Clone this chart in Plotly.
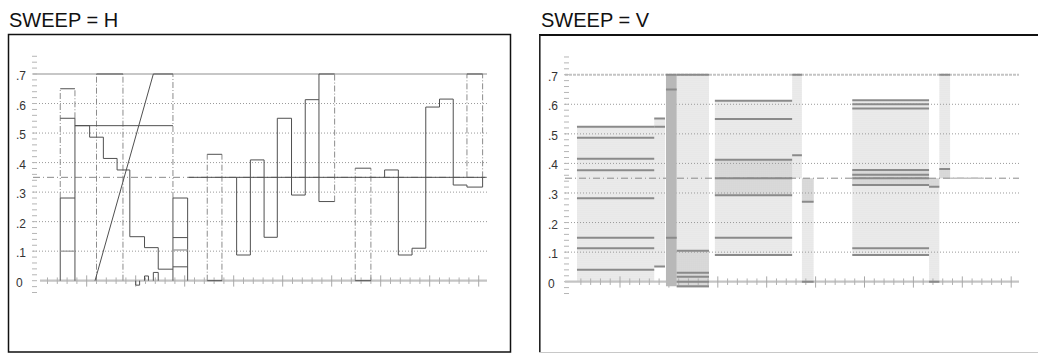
import plotly.graph_objects as go

W, H = 1038, 354

# ---------------- common scale ----------------
LABEL_LEVELS = [0.7, 0.6, 0.5, 0.4, 0.3, 0.2, 0.1, 0.0]
LABEL_TEXT = [".7", ".6", ".5", ".4", ".3", ".2", ".1", "0"]
GRID_LEVELS = [0.1, 0.2, 0.3, 0.4, 0.5, 0.6]
PEAK = 0.7
BLANK = 0.35
SCALE_TICKS = [round(-0.04 + 0.02 * i, 2) for i in range(41)]   # -0.04 .. 0.76
TIME_TICKS = list(range(1, 46))

# ---------------- SWEEP = H : Y / Pb / Pr parade ----------------
# Y channel
Y_BAR1_X = [2.3, 3.8]
Y_BAR1_LEVELS = [0.65, 0.55, 0.28]
Y_BAR1_FAINT = [0.10]
Y_WHITE_X = [3.8, 13.8]
Y_WHITE_V = 0.525
Y_STAIR_X = [3.8, 5.3, 6.7, 8.1, 9.4, 10.9, 12.3, 13.8]
Y_STAIR_V = [0.525, 0.486, 0.414, 0.375, 0.149, 0.112, 0.039, 0.039]
Y_PEAK_X = [6.0, 8.7]
Y_RAMP_X = [5.85, 11.8, 13.8]
Y_RAMP_V = [0.0, 0.7, 0.7]
Y_PLUGE_X0 = [10.0, 10.9, 11.8]
Y_PLUGE_X1 = [10.4, 11.3, 12.3]
Y_PLUGE_V = [-0.015, 0.016, 0.028]
Y_BOX2_X = [13.8, 15.3]
Y_BOX2_LEVELS = [0.28, 0.146, 0.047]
Y_BOX2_FAINT = [0.104]

# Pb channel
PB_START, PB_END = 15.4, 45.7
PB_BOX_X = [17.3, 18.8]
PB_BOX_TOP = 0.428
PB_STEP_X = [20.3, 21.7, 23.1, 24.45, 25.9, 27.3, 28.7]
PB_STEP_V = [0.35, 0.087, 0.409, 0.147, 0.55, 0.29, 0.613]
PB_PEAK_X = [28.7, 30.3]
PB_PEAK_LO = 0.268

# Pr channel
PR_BOX_X = [32.4, 34.0]
PR_BOX_TOP = 0.381
PR_STEP_X = [35.4, 36.8, 38.2, 39.6, 41.0, 42.4, 43.8, 45.4, 45.4]
PR_STEP_V = [0.35, 0.375, 0.087, 0.11, 0.588, 0.615, 0.324, 0.317, 0.35]
PR_PEAK_X = [43.8, 45.4]

# ---------------- SWEEP = V ----------------
V_FILL_X0 = [0.6, 8.5, 10.8, 14.7, 22.6, 23.6, 28.75, 36.6, 37.65]
V_FILL_X1 = [8.5, 9.6, 14.1, 22.6, 23.6, 24.8, 36.6, 37.65, 38.75]
V_FILL_LO = [0.0, 0.051, -0.02, 0.09, 0.35, 0.0, 0.09, 0.0, 0.35]
V_FILL_HI = [0.524, 0.552, 0.70, 0.612, 0.70, 0.35, 0.614, 0.35, 0.70]
V_FILL_LEVELS = [
    [0.524, 0.487, 0.416, 0.377, 0.282, 0.149, 0.113, 0.04],
    [0.552, 0.524, 0.051],
    [0.70, 0.105, 0.03, 0.017, 0.0, -0.015],
    [0.612, 0.55, 0.412, 0.35, 0.292, 0.149, 0.09],
    [0.70, 0.428],
    [0.27, 0.0],
    [0.614, 0.60, 0.586, 0.378, 0.362, 0.35, 0.327, 0.113, 0.09],
    [0.321, 0.0],
    [0.70, 0.381],
]
V_DENSE_X0 = [10.8, 23.6, 36.6, 37.65, 14.7, 28.75]
V_DENSE_X1 = [14.1, 24.8, 37.65, 38.75, 22.6, 36.6]
V_DENSE_LO = [-0.02, 0.27, 0.321, 0.35, 0.292, 0.327]
V_DENSE_HI = [0.105, 0.35, 0.35, 0.381, 0.412, 0.378]
V_BAR_X = [9.7, 10.8]
V_BAR_LO, V_BAR_HI = -0.015, 0.70
V_BAR_LEVELS = [0.70, 0.65, 0.149]
V_BLANK_SOLID_X = [38.75, 42.2]

# ---------------- pixel calibration of the two graticules ----------------
L_FRAME = (8, 34, 511, 352)          # left, top, right, bottom (px)
R_FRAME = (539, 35, 1038, 352.5)
L_CAL = dict(x0=37.7, dx=9.8, y0=280.7, dy=295.3)
R_CAL = dict(x0=571.1, dx=9.78, y0=281.7, dy=295.7)


def px_to_x(px, cal):
    return (px - cal["x0"]) / cal["dx"]


def axis_setup(frame, cal):
    l, t, r, b = frame
    xd = [l / W, r / W]
    yd = [1 - b / H, 1 - t / H]
    xr = [px_to_x(l, cal), px_to_x(r, cal)]
    yr = [(cal["y0"] - b) / cal["dy"], (cal["y0"] - t) / cal["dy"]]
    common = dict(visible=False, fixedrange=True, showgrid=False, zeroline=False)
    return dict(domain=xd, range=xr, **common), dict(domain=yd, range=yr, **common)


fig = go.Figure()


def add_line(xs, ys, axes, color, width=1.0, dash=None, shape="linear"):
    fig.add_trace(go.Scatter(
        x=xs, y=ys, xaxis=axes[0], yaxis=axes[1], mode="lines",
        line=dict(color=color, width=width, dash=dash, shape=shape),
        hoverinfo="skip", showlegend=False))


def hsegs(x0s, x1s, vs):
    xs, ys = [], []
    for a, b, v in zip(x0s, x1s, vs):
        xs += [a, b, None]
        ys += [v, v, None]
    return xs, ys


def vsegs(xs_in, lo, hi):
    xs, ys = [], []
    for x, a, b in zip(xs_in, lo, hi):
        xs += [x, x, None]
        ys += [a, b, None]
    return xs, ys


def graticule(axes, cal, x_left_px, x_right_px, base_start_px, peak_color, peak_width, peak_dash):
    xl = px_to_x(x_left_px, cal)
    xr = px_to_x(x_right_px, cal)
    xb = px_to_x(base_start_px, cal)
    # dotted graticule lines
    gx, gy = hsegs([xl] * len(GRID_LEVELS), [xr] * len(GRID_LEVELS), GRID_LEVELS)
    add_line(gx, gy, axes, "#9a9a9a", 1, "1px,2px")
    # peak line
    add_line([xl, xr], [PEAK, PEAK], axes, peak_color, peak_width, peak_dash)
    # blanking reference
    add_line([xl, xr], [BLANK, BLANK], axes, "#8a8a8a", 1, "7px,3px,1px,3px")
    # vertical scale ticks
    sx0 = px_to_x(x_left_px - 1, cal)
    sx1 = px_to_x(x_left_px + 4, cal)
    tx, ty = hsegs([sx0] * len(SCALE_TICKS), [sx1] * len(SCALE_TICKS), SCALE_TICKS)
    add_line(tx, ty, axes, "#b5b5b5", 1)
    # baseline and time ticks
    add_line([xb, xr], [0, 0], axes, "#c4c4c4", 2.2)
    minor = [t for t in TIME_TICKS if t % 5]
    major = [t for t in TIME_TICKS if t % 5 == 0]
    mx, my = vsegs(minor, [-0.011] * len(minor), [0.011] * len(minor))
    add_line(mx, my, axes, "#b0b0b0", 1)
    Mx, My = vsegs(major, [-0.02] * len(major), [0.018] * len(major))
    add_line(Mx, My, axes, "#a8a8a8", 1)


# ================= left graticule (SWEEP = H) =================
LA = ("x", "y")
graticule(LA, L_CAL, 33, 487, 40, "#b4b4b4", 1.4, None)

DARK = "#505050"
FAINT = "#9c9c9c"
DD = "6px,2px,1px,2px"
DDC = "#8c8c8c"

# dash-dot edges of the bars
dd_x = [Y_BAR1_X[0], Y_BAR1_X[1], Y_PEAK_X[0], Y_PEAK_X[1], Y_BOX2_X[0],
        PB_BOX_X[0], PB_BOX_X[1], PB_PEAK_X[1], PR_BOX_X[0], PR_BOX_X[1],
        PR_PEAK_X[0], PR_PEAK_X[1]]
dd_lo = [Y_BAR1_LEVELS[2], Y_BAR1_LEVELS[1], 0, 0, Y_BOX2_LEVELS[0],
         0, 0, PB_PEAK_LO, 0, 0, BLANK, BLANK]
dd_hi = [Y_BAR1_LEVELS[0], Y_BAR1_LEVELS[0], PEAK, PEAK, PEAK,
         PB_BOX_TOP, PB_BOX_TOP, PEAK, PR_BOX_TOP, PR_BOX_TOP, PEAK, PEAK]
x, y = vsegs(dd_x, dd_lo, dd_hi)
add_line(x, y, LA, DDC, 1, DD)

# solid bar edges
sv_x = [Y_BAR1_X[0], Y_BAR1_X[1], Y_BOX2_X[0], Y_BOX2_X[1], PB_PEAK_X[0]]
sv_lo = [0, 0, 0, 0, PB_PEAK_LO]
sv_hi = [Y_BAR1_LEVELS[2], Y_BAR1_LEVELS[1], Y_BOX2_LEVELS[0], Y_BOX2_LEVELS[0], PEAK]
x, y = vsegs(sv_x, sv_lo, sv_hi)
add_line(x, y, LA, DARK, 1)

# horizontal levels
h_x0, h_x1, h_v = [], [], []
for v in Y_BAR1_LEVELS:
    h_x0.append(Y_BAR1_X[0]); h_x1.append(Y_BAR1_X[1]); h_v.append(v)
for v in Y_BOX2_LEVELS:
    h_x0.append(Y_BOX2_X[0]); h_x1.append(Y_BOX2_X[1]); h_v.append(v)
h_x0 += [Y_WHITE_X[0], Y_PEAK_X[0], PB_START, PB_BOX_X[0], PB_BOX_X[0],
         PB_PEAK_X[0], PB_PEAK_X[0], PR_BOX_X[0], PR_BOX_X[0], PR_PEAK_X[0]]
h_x1 += [Y_WHITE_X[1], Y_PEAK_X[1], PB_END, PB_BOX_X[1], PB_BOX_X[1],
         PB_PEAK_X[1], PB_PEAK_X[1], PR_BOX_X[1], PR_BOX_X[1], PR_PEAK_X[1]]
h_v += [Y_WHITE_V, PEAK, BLANK, PB_BOX_TOP, 0,
        PEAK, PB_PEAK_LO, PR_BOX_TOP, 0, PEAK]
x, y = hsegs(h_x0, h_x1, h_v)
add_line(x, y, LA, DARK, 1)

fx, fy = hsegs([Y_BAR1_X[0], Y_BOX2_X[0]], [Y_BAR1_X[1], Y_BOX2_X[1]],
               Y_BAR1_FAINT + Y_BOX2_FAINT)
add_line(fx, fy, LA, FAINT, 1.3)

# PLUGE pulses
px_, py_ = [], []
for a, b, v in zip(Y_PLUGE_X0, Y_PLUGE_X1, Y_PLUGE_V):
    px_ += [a, a, b, b, None]
    py_ += [0, v, v, 0, None]
add_line(px_, py_, LA, DARK, 1)

# staircase, ramp and colour-difference steps
add_line(Y_STAIR_X, Y_STAIR_V, LA, DARK, 1, shape="hv")
add_line(Y_RAMP_X, Y_RAMP_V, LA, DARK, 1)
add_line(PB_STEP_X, PB_STEP_V, LA, DARK, 1, shape="vh")
add_line(PR_STEP_X, PR_STEP_V, LA, DARK, 1, shape="vh")

# ================= right graticule (SWEEP = V) =================
RA = ("x2", "y2")


def rects(x0s, x1s, los, his):
    xs, ys = [], []
    for a, b, lo, hi in zip(x0s, x1s, los, his):
        xs += [a, b, b, a, a, None]
        ys += [lo, lo, hi, hi, lo, None]
    return xs, ys


rx, ry = rects(V_FILL_X0, V_FILL_X1, V_FILL_LO, V_FILL_HI)
fig.add_trace(go.Scatter(
    x=rx, y=ry, xaxis="x2", yaxis="y2", mode="lines", fill="toself",
    fillcolor="#ececec",
    fillpattern=dict(shape=".", fgcolor="#b4b4b4", bgcolor="#f0f0f0", size=2, solidity=0.3),
    line=dict(width=0), hoverinfo="skip", showlegend=False))
rx, ry = rects(V_DENSE_X0, V_DENSE_X1, V_DENSE_LO, V_DENSE_HI)
fig.add_trace(go.Scatter(
    x=rx, y=ry, xaxis="x2", yaxis="y2", mode="lines", fill="toself",
    fillcolor="#dcdcdc",
    fillpattern=dict(shape=".", fgcolor="#a4a4a4", bgcolor="#e4e4e4", size=2, solidity=0.4),
    line=dict(width=0), hoverinfo="skip", showlegend=False))

graticule(RA, R_CAL, 565, 1019, 565, "#c4c4c4", 2, "3px,1px")
add_line(V_BLANK_SOLID_X, [BLANK, BLANK], RA, "#c2c2c2", 1.6)

# solid vertical-interval bar
bx, by = rects([V_BAR_X[0]], [V_BAR_X[1]], [V_BAR_LO], [V_BAR_HI])
fig.add_trace(go.Scatter(
    x=bx, y=by, xaxis="x2", yaxis="y2", mode="lines", fill="toself",
    fillcolor="#b8b8b8", line=dict(width=0), hoverinfo="skip", showlegend=False))

# level traces across the fields
lx0, lx1, lv = [], [], []
for a, b, levels in zip(V_FILL_X0, V_FILL_X1, V_FILL_LEVELS):
    for v in levels:
        lx0.append(a); lx1.append(b); lv.append(v)
for v in V_BAR_LEVELS:
    lx0.append(V_BAR_X[0]); lx1.append(V_BAR_X[1]); lv.append(v)
x, y = hsegs(lx0, lx1, lv)
add_line(x, y, RA, "#8a8a8a", 2)

# ---------------- layout ----------------
xa, ya = axis_setup(L_FRAME, L_CAL)
xb, yb = axis_setup(R_FRAME, R_CAL)
xa["anchor"] = "y"; ya["anchor"] = "x"
xb["anchor"] = "y2"; yb["anchor"] = "x2"

annotations = []
for axes, cal, lpx in ((("x", "y"), L_CAL, 14), (("x2", "y2"), R_CAL, 546)):
    for v, t in zip(LABEL_LEVELS, LABEL_TEXT):
        annotations.append(dict(
            x=px_to_x(lpx, cal), y=v, xref=axes[0], yref=axes[1], text=t,
            showarrow=False, xanchor="left", yanchor="middle", yshift=-2,
            font=dict(family="Liberation Sans, Arial, sans-serif", size=12, color="#333333")))
for txt, xpx in (("SWEEP = H", 7), ("SWEEP = V", 539)):
    annotations.append(dict(
        x=xpx / W, y=1 - 20 / H, xref="paper", yref="paper", text=txt,
        showarrow=False, xanchor="left", yanchor="middle",
        font=dict(family="Liberation Sans, Arial, sans-serif", size=20, color="#111111")))

shapes = [
    dict(type="rect", xref="paper", yref="paper",
         x0=8.5 / W, x1=510.5 / W, y0=1 - 352 / H, y1=1 - 34.5 / H,
         line=dict(color="#111111", width=1.5), fillcolor="rgba(0,0,0,0)", layer="above"),
    dict(type="line", xref="paper", yref="paper",
         x0=539 / W, x1=1, y0=1 - 35 / H, y1=1 - 35 / H,
         line=dict(color="#111111", width=2), layer="above"),
    dict(type="line", xref="paper", yref="paper",
         x0=539.8 / W, x1=539.8 / W, y0=1 - 353 / H, y1=1 - 35 / H,
         line=dict(color="#222222", width=1.6), layer="above"),
    dict(type="line", xref="paper", yref="paper",
         x0=539 / W, x1=1, y0=1 - 352.5 / H, y1=1 - 352.5 / H,
         line=dict(color="#c8c8c8", width=1.2), layer="above"),
]

fig.update_layout(
    width=W, height=H, margin=dict(l=0, r=0, t=0, b=0),
    paper_bgcolor="white", plot_bgcolor="white", showlegend=False,
    xaxis=xa, yaxis=ya, xaxis2=xb, yaxis2=yb,
    annotations=annotations, shapes=shapes,
)

fig.write_html("out.html")
